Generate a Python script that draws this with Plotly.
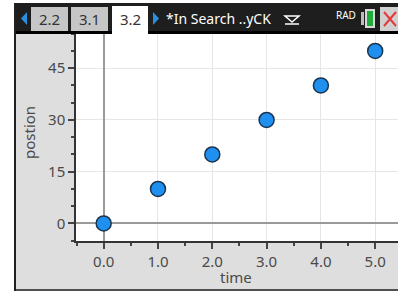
import plotly.graph_objects as go

# data
time = [0, 1, 2, 3, 4, 5]
position = [0, 10, 20, 30, 40, 50]
x_ticks = [0, 1, 2, 3, 4, 5]
x_tick_labels = ["0.0", "1.0", "2.0", "3.0", "4.0", "5.0"]
y_ticks = [0, 15, 30, 45]
y_tick_labels = ["0", "15", "30", "45"]
x_title = "time"
y_title = "postion"

W, H = 398, 293
L, R, T, B = 76, 0, 33, 52
PW, PH = W - L - R, H - T - B

def px(x):
    return (x - L) / PW

def py(y):
    return (H - B - y) / PH

fig = go.Figure()
fig.add_trace(go.Scatter(
    x=time, y=position, mode="markers",
    marker=dict(size=15, color="#1f8ff0", line=dict(color="#1b3550", width=1.5)),
    hoverinfo="skip", showlegend=False,
))

shapes = []
anns = []

def rect(x0, y0, x1, y1, fill, line=None, lw=0):
    shapes.append(dict(type="rect", xref="paper", yref="paper", layer="above",
                       x0=px(x0), x1=px(x1), y0=py(y1), y1=py(y0),
                       fillcolor=fill, line=dict(color=line or fill, width=lw)))

def path(d_pts, fill, line=None, lw=0, closed=True):
    d = "M " + " L ".join(f"{px(a)},{py(b)}" for a, b in d_pts) + (" Z" if closed else "")
    shapes.append(dict(type="path", xref="paper", yref="paper", layer="above", path=d,
                       fillcolor=fill, line=dict(color=line or fill, width=lw)))

def text(x, y, s, size, color, anchor="center", family="Noto Sans", angle=0):
    anns.append(dict(xref="paper", yref="paper", x=px(x), y=py(y), text=s, showarrow=False,
                     xanchor=anchor, yanchor="middle", textangle=angle,
                     font=dict(size=size, color=color, family=family)))

# outer frame decorations
rect(0, 0, 14, 293, "white")
rect(14, 0, 16, 293, "#202020")
rect(0, 0, 398, 3, "white")
rect(16, 289, 398, 291, "#505050")
rect(0, 291, 398, 293, "white")
# top dark bar
rect(16, 3, 398, 33, "#1e1e1e")
rect(16, 31, 398, 34, "#000000")
# tabs
rect(31, 7, 68, 31, "#c6c6c6")
text(49.5, 19, "2.2", 15, "#333333")
rect(71, 7, 108, 31, "#c6c6c6")
text(89.5, 19, "3.1", 15, "#333333")
rect(112, 6, 148, 35, "#ffffff")
text(130, 19, "3.2", 15, "#333333")
# arrows
path([(27, 12), (21, 18.5), (27, 25)], "#2a8fe0")
path([(153, 12), (159, 18.5), (153, 25)], "#2a8fe0")
text(164, 18, "*In Search ..yCK", 14, "#ffffff", anchor="left")
path([(285, 16), (299, 16), (292, 22)], "rgba(0,0,0,0)", line="#ffffff", lw=1.5)
path([(285, 24), (299, 24)], "rgba(0,0,0,0)", line="#ffffff", lw=1.5, closed=False)
text(346, 15, "RAD", 10, "#ffffff")
# battery
rect(361, 12, 364, 25, "#bdbdbd")
rect(365, 9, 375, 28, "#d8d8d8")
rect(367, 11, 373, 26, "#1fae3c")
# close
rect(380, 7, 398, 31, "#d0d0d0")
path([(384, 12), (396, 26)], "rgba(0,0,0,0)", line="#e23a3a", lw=2, closed=False)
path([(396, 12), (384, 26)], "rgba(0,0,0,0)", line="#e23a3a", lw=2, closed=False)

# axis titles
text(236, 277, x_title, 15, "#4a4a4a")
text(29, 133, y_title, 15, "#4a4a4a", angle=-90)

fig.update_layout(
    width=W, height=H,
    margin=dict(l=L, r=R, t=T, b=B, autoexpand=False),
    paper_bgcolor="#dedede",
    plot_bgcolor="#ffffff",
    shapes=shapes,
    annotations=anns,
    font=dict(family="Noto Sans", color="#4a4a4a"),
    xaxis=dict(
        range=[-0.51, 5.42], tickvals=x_ticks, ticktext=x_tick_labels,
        ticks="outside", ticklen=6, tickwidth=1.5, tickcolor="#444444",
        tickfont=dict(size=15, color="#4a4a4a"),
        showgrid=True, gridcolor="#e6e6e6", gridwidth=1,
        zeroline=True, zerolinecolor="#9a9a9a", zerolinewidth=1.5,
        showline=True, linecolor="#333333", linewidth=1.5,
        minor=dict(dtick=0.5, tick0=0, ticks="outside", ticklen=3, tickcolor="#444444", tickwidth=1.5, showgrid=False),
        automargin=False,
        fixedrange=True,
    ),
    yaxis=dict(
        range=[-5.1, 55.2], tickvals=y_ticks, ticktext=y_tick_labels,
        ticks="outside", ticklen=6, tickwidth=1.5, tickcolor="#444444",
        tickfont=dict(size=15, color="#4a4a4a"),
        showgrid=True, gridcolor="#e6e6e6", gridwidth=1,
        zeroline=True, zerolinecolor="#9a9a9a", zerolinewidth=1.5,
        showline=True, linecolor="#333333", linewidth=1.5,
        minor=dict(dtick=5, tick0=0, ticks="outside", ticklen=3, tickcolor="#444444", tickwidth=1.5, showgrid=False),
        automargin=False,
        fixedrange=True,
    ),
)

fig.write_html("out.html", config={"displayModeBar": False},
               post_script="document.body.style.margin='0';document.body.style.overflow='hidden';")
